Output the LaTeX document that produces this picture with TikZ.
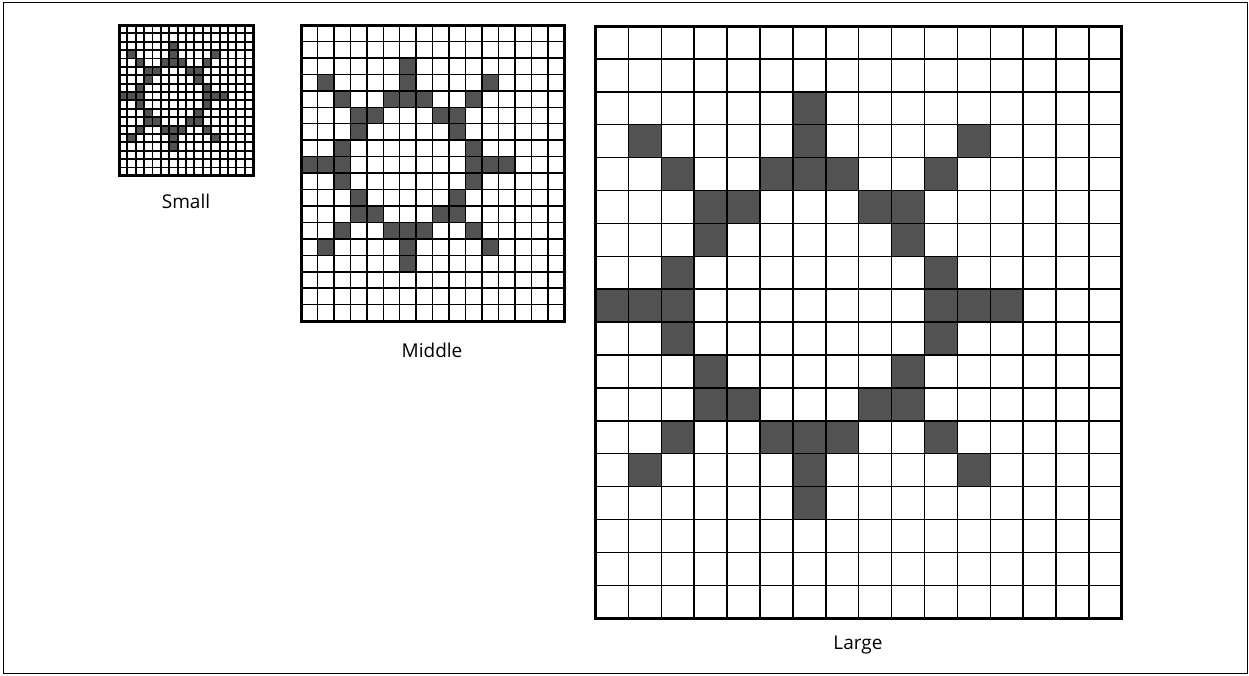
\documentclass[tikz,border=0pt]{standalone}
\usepackage{fontspec}
\setmainfont{Open Sans}
\tikzset{
  cellshade/.style={fill=black!68},
  gridline/.style={line width=#1, black},
  gridframe/.style={line width=3pt, black},
  lbl/.style={font=\fontsize{19}{22}\selectfont, inner sep=0pt, anchor=center},
}
\newcommand\sungrid[4]{%
  \foreach \cc/\rr in {6/2,1/3,6/3,11/3,2/4,5/4,6/4,7/4,10/4,3/5,4/5,8/5,9/5,3/6,9/6,2/7,10/7,
    0/8,1/8,2/8,10/8,11/8,12/8,2/9,10/9,3/10,9/10,3/11,4/11,8/11,9/11,2/12,5/12,6/12,7/12,10/12,
    1/13,6/13,11/13,6/14}{%
    \fill[cellshade] ({#1+\cc*#3},{-(#2+\rr*#3)}) rectangle ++(#3,-#3);}
  \foreach \ii in {1,...,15}{\draw[gridline=#4] ({#1+\ii*#3},{-#2}) -- ++(0,{-18*#3});}
  \foreach \jj in {1,...,17}{\draw[gridline=#4] ({#1},{-(#2+\jj*#3)}) -- ++({16*#3},0);}
  \draw[gridframe] ({#1},{-#2}) rectangle ++({16*#3},{-18*#3});
}
\begin{document}
\begin{tikzpicture}[x=1pt,y=1pt]
  \useasboundingbox (0,0) rectangle (1249,-675);
  \draw[line width=1.6pt] (3.5,-2.5) rectangle (1247.5,-673.5);
  \sungrid{119}{25}{8.38}{1.9pt}
  \sungrid{301}{25}{16.45}{1.5pt}
  \sungrid{595.5}{26}{32.9}{1.5pt}
  \node[lbl] (small) at (186,-201) {Small};
  \node[lbl] (middle) at (432,-350) {Middle};
  \node[lbl] (large) at (858,-645) {Large};
\end{tikzpicture}
\end{document}
